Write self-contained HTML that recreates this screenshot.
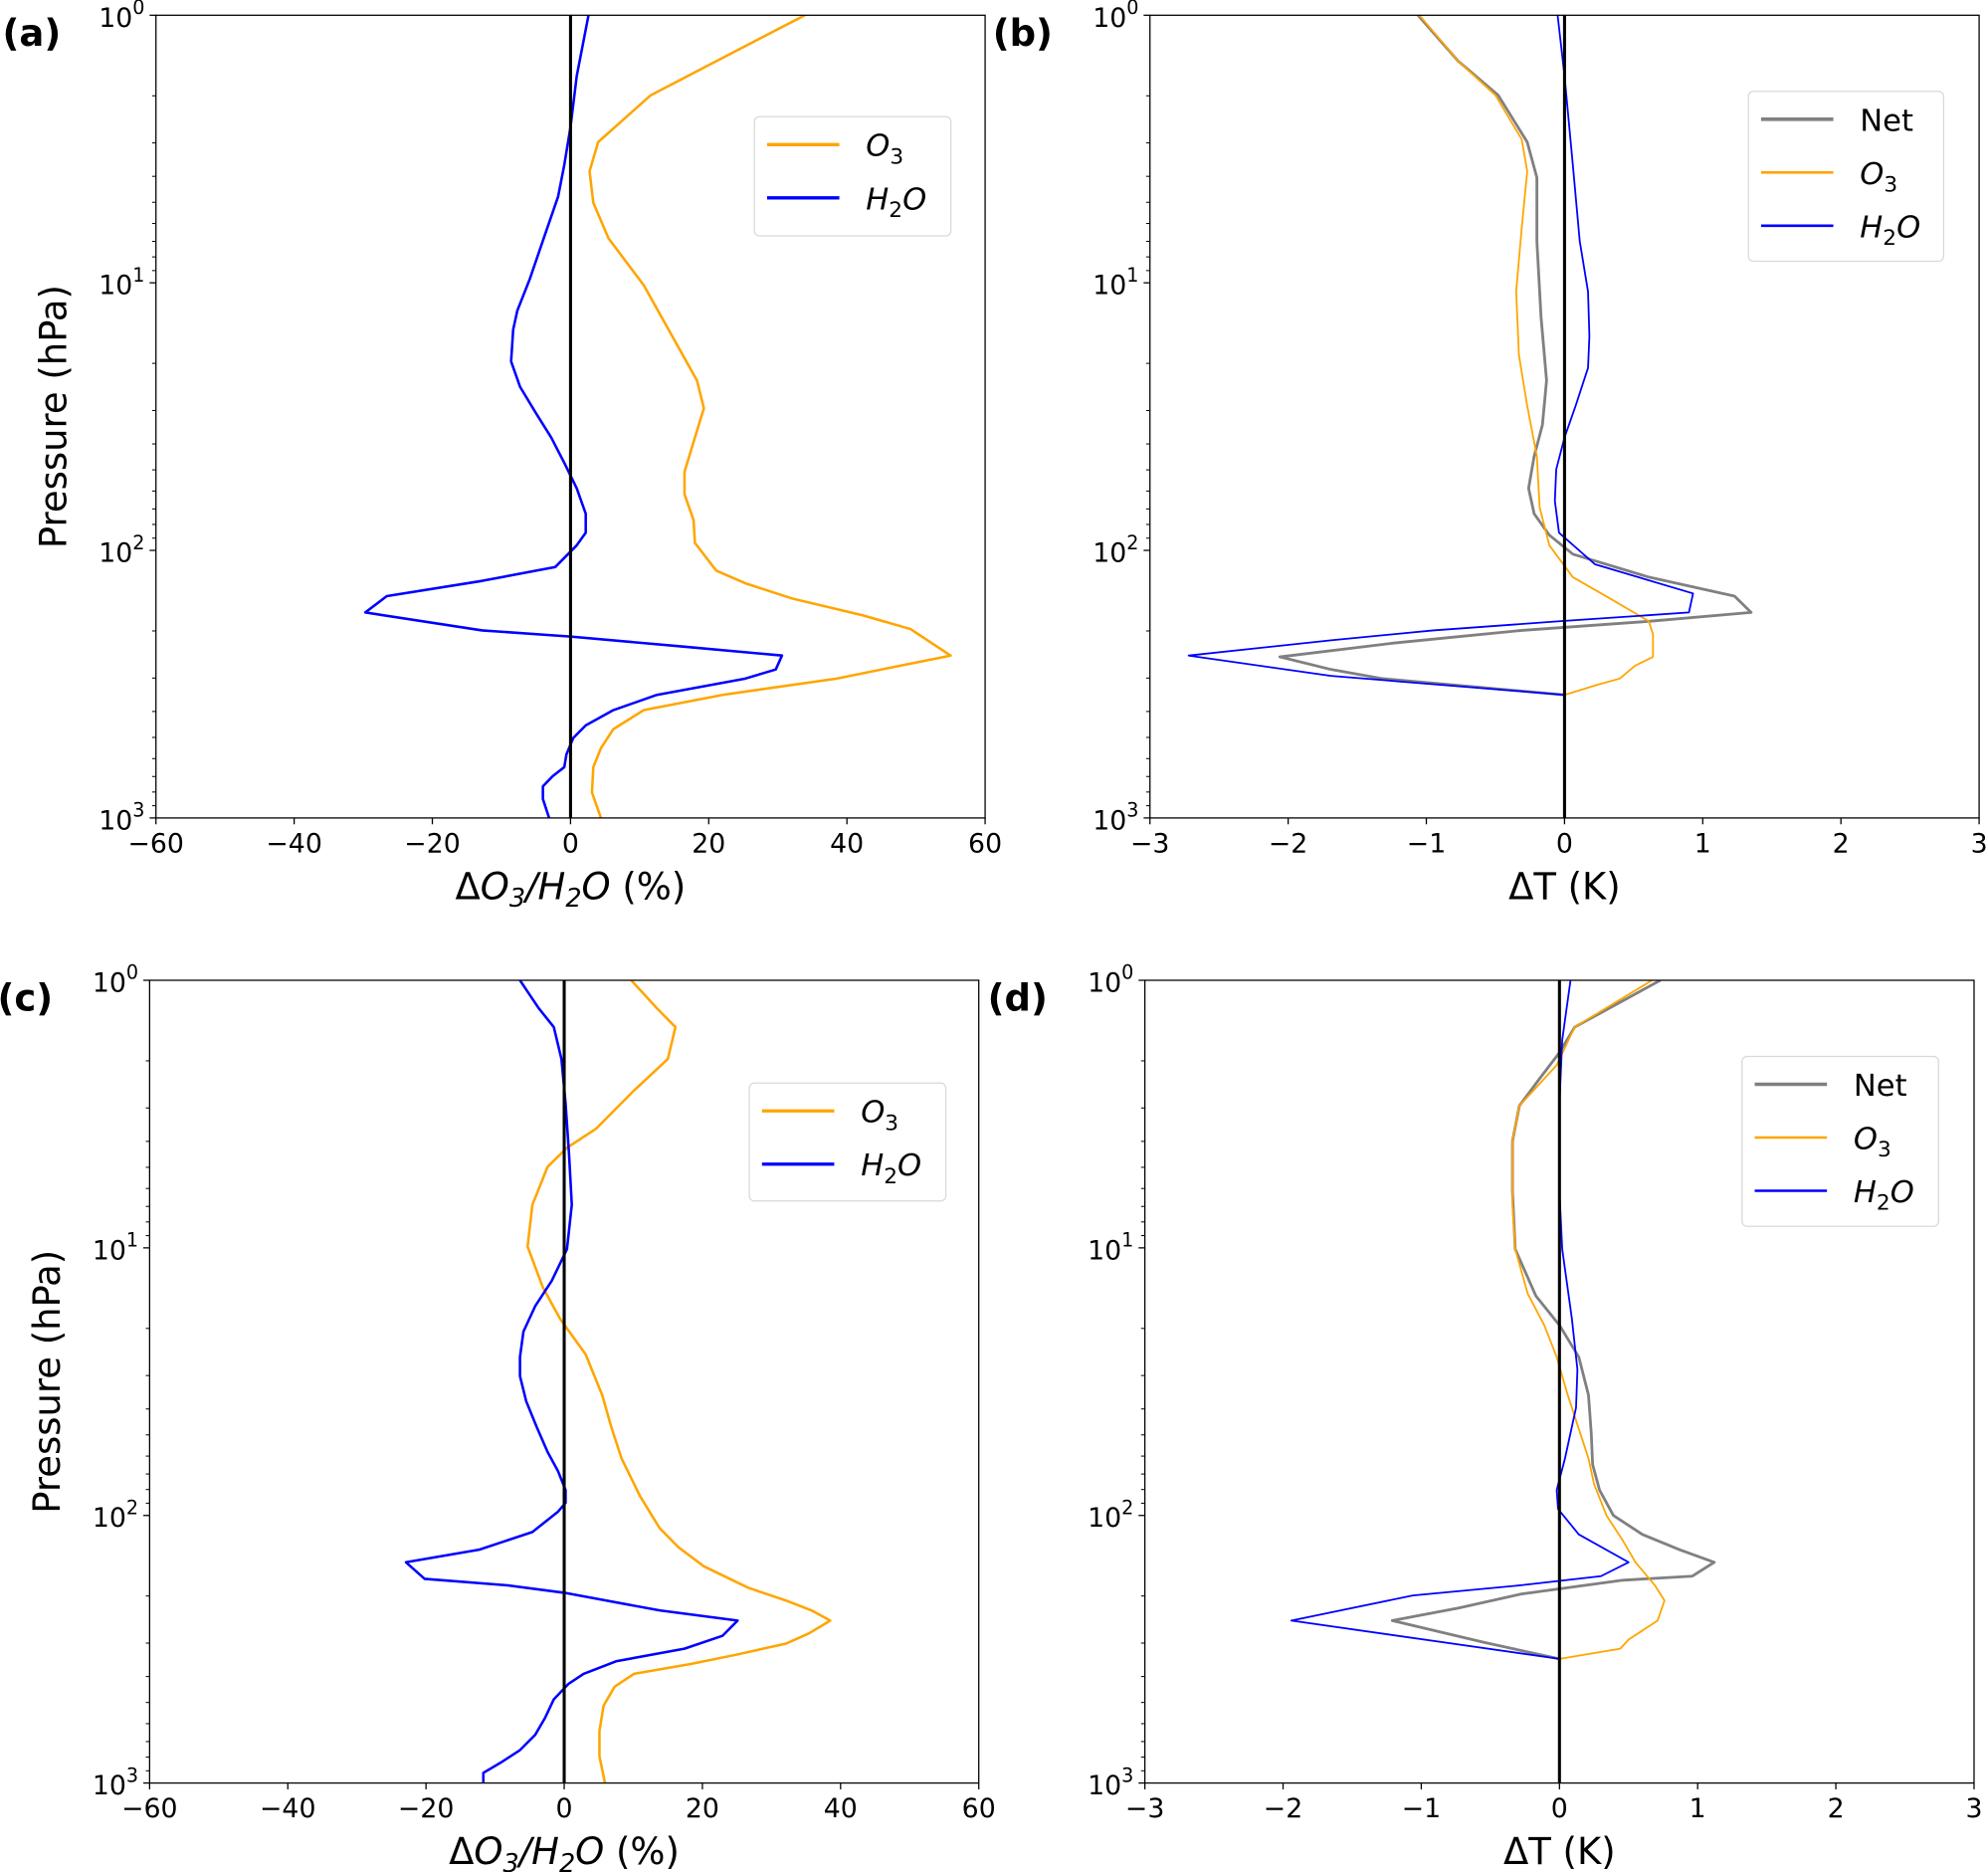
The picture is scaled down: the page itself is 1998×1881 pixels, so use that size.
<!DOCTYPE html>
<html><head><meta charset="utf-8"><style>
html,body{margin:0;padding:0;background:#fff;}
svg{display:block;font-family:"DejaVu Sans","Liberation Sans",sans-serif;}
</style></head><body>
<svg id="fig" width="1998" height="1881" viewBox="0 0 1568 1476.15" xmlns="http://www.w3.org/2000/svg"></svg>
<script>
// ---- data (x values and log10 of pressure in hPa) ----
const aO3X=[33.9,11.6,4.0,2.75,3.3,5.5,10.6,14.7,18.3,19.3,18.0,16.5,16.5,17.8,18.0,21.1,25.3,32.1,42.2,49.2,55.0,38.5,22.0,10.6,6.2,4.4,3.3,3.1,4.4];
const aO3LogP=[0,0.299,0.474,0.583,0.701,0.834,1.009,1.199,1.365,1.469,1.578,1.706,1.791,1.886,1.972,2.076,2.123,2.180,2.242,2.294,2.393,2.479,2.540,2.597,2.668,2.739,2.810,2.905,3.0];
const aH2OX=[2.6,0.9,0,-0.9,-1.8,-3.7,-5.9,-7.7,-8.3,-8.6,-7.3,-5.1,-2.8,-0.9,0.9,2.2,2.2,0.9,-2.2,-12.8,-26.6,-29.7,-12.8,0,16.5,30.6,29.7,25.3,12.5,6.2,2.2,0.4,-0.6,-0.9,-2.6,-4.0,-4.0,-3.1];
const aH2OLogP=[0,0.227,0.417,0.559,0.678,0.820,0.986,1.104,1.175,1.294,1.389,1.483,1.578,1.673,1.768,1.863,1.934,1.981,2.062,2.114,2.171,2.232,2.299,2.322,2.360,2.393,2.445,2.479,2.540,2.597,2.654,2.701,2.763,2.810,2.844,2.882,2.929,3.0];

const bNetX=[-1.06,-0.77,-0.48,-0.27,-0.20,-0.20,-0.17,-0.13,-0.16,-0.22,-0.26,-0.22,-0.11,0.06,0.61,1.23,1.35,0.61,-0.31,-1.23,-2.06,-1.69,-1.32,0];
const bNetLogP=[0,0.171,0.299,0.474,0.607,0.844,1.128,1.365,1.531,1.649,1.768,1.863,1.943,2.014,2.100,2.171,2.232,2.265,2.299,2.346,2.398,2.445,2.479,2.540];
const bO3X=[-1.05,-0.77,-0.50,-0.31,-0.27,-0.31,-0.35,-0.33,-0.27,-0.20,-0.18,-0.11,0.06,0.33,0.61,0.64,0.64,0.51,0.40,0.24,0];
const bO3LogP=[0,0.171,0.299,0.464,0.583,0.796,1.033,1.270,1.460,1.649,1.839,1.981,2.100,2.180,2.265,2.313,2.398,2.431,2.479,2.502,2.540];
const bH2OX=[-0.05,0,0.06,0.11,0.17,0.18,0.17,0.08,0,-0.06,-0.07,-0.04,0.22,0.93,0.90,-0.04,-0.95,-1.69,-2.72,-1.69,0];
const bH2OLogP=[0,0.227,0.559,0.844,1.033,1.199,1.318,1.460,1.578,1.697,1.815,1.934,2.052,2.161,2.232,2.265,2.299,2.336,2.393,2.469,2.540];

const cO3X=[9.7,13.4,16.1,15.0,10.1,4.6,0.4,-2.4,-4.6,-5.3,-3.1,-0.6,3.1,5.5,6.8,8.3,11.0,13.8,16.5,20.2,26.6,32.1,35.8,38.5,35.4,32.1,24.8,18.3,10.1,7.3,5.7,5.1,5.1,5.9];
const cO3LogP=[0,0.104,0.175,0.294,0.412,0.555,0.626,0.697,0.839,0.995,1.147,1.265,1.398,1.550,1.668,1.787,1.929,2.047,2.118,2.190,2.270,2.318,2.355,2.393,2.441,2.479,2.521,2.555,2.592,2.640,2.711,2.806,2.900,3.0];
const cH2OX=[-6.4,-3.7,-1.5,-0.4,0.2,0.7,1.1,0.4,-1.8,-4.2,-5.9,-6.4,-6.4,-5.5,-4.0,-2.4,-0.9,0.2,0.2,-0.9,-4.6,-12.3,-22.9,-20.2,-8.3,0,13.8,25.1,22.9,17.4,7.5,2.8,0.6,-1.5,-2.8,-4.2,-6.4,-9.2,-11.7,-11.7];
const cH2OLogP=[0,0.104,0.175,0.294,0.460,0.649,0.839,1.005,1.123,1.218,1.313,1.408,1.479,1.573,1.668,1.763,1.834,1.905,1.953,1.986,2.062,2.128,2.175,2.237,2.261,2.289,2.355,2.393,2.450,2.498,2.545,2.592,2.630,2.687,2.758,2.820,2.877,2.924,2.962,3.0];

const dNetX=[0.73,0.11,0,-0.14,-0.29,-0.34,-0.34,-0.32,-0.17,0,0.14,0.21,0.23,0.24,0.29,0.39,0.60,0.87,1.12,0.96,0.46,-0.28,-0.73,-1.21,-0.55,0];
const dNetLogP=[0,0.175,0.270,0.365,0.469,0.602,0.791,1.005,1.180,1.289,1.408,1.550,1.692,1.810,1.905,2.000,2.071,2.128,2.175,2.227,2.242,2.294,2.346,2.393,2.474,2.536];
const dO3X=[0.67,0.11,-0.02,-0.29,-0.34,-0.34,-0.32,-0.23,-0.11,-0.02,0.06,0.15,0.21,0.25,0.34,0.46,0.55,0.69,0.76,0.71,0.50,0.44,0];
const dO3LogP=[0,0.175,0.317,0.469,0.602,0.839,1.005,1.171,1.289,1.408,1.550,1.692,1.787,1.882,2.000,2.095,2.175,2.261,2.318,2.393,2.464,2.498,2.536];
const dH2OX=[0.08,0.02,0,0,0.02,0.09,0.13,0.12,0.04,-0.02,-0.01,0.14,0.50,0.30,-0.28,-1.06,-1.94,0];
const dH2OLogP=[0,0.223,0.460,0.791,1.005,1.265,1.455,1.597,1.787,1.905,1.976,2.071,2.175,2.227,2.261,2.299,2.393,2.536];

const pctTicks=[-60,-40,-20,0,20,40,60];
const tTicks=[-3,-2,-1,0,1,2,3];
const decades=[0,1,2,3];

const NS="http://www.w3.org/2000/svg";
const svg=document.getElementById('fig');
function el(tag,attrs,parent){const e=document.createElementNS(NS,tag);for(const k in attrs)e.setAttribute(k,attrs[k]);(parent||svg).appendChild(e);return e;}
function fmt(v){return v<0?'\u2212'+Math.abs(v):String(v);}

function panel(o){
  const g=el('g',{});
  
  
  const {L,R,T,B,xmin,xmax}=o;
  const sx=v=>L+(v-xmin)/(xmax-xmin)*(R-L);
  const sy=lp=>T+lp/3*(B-T);
  // y ticks (log)
  for(const d of decades){
    const y=sy(d);
    const t=el('line',{x1:L-5,x2:L,y1:y,y2:y,stroke:'#000','stroke-width':1},g);
    
    
    const tx=el('text',{x:L-27,y:y+9,'font-size':21,'text-anchor':'middle'},g);
    
    
    tx.textContent='10';
    const sup=el('tspan',{dy:-10,'font-size':15},tx);sup.textContent=String(d);
    if(d<3){for(let m=2;m<=9;m++){const ym=sy(d+Math.log10(m));
      const mt=el('line',{x1:L-3,x2:L,y1:ym,y2:ym,stroke:'#000','stroke-width':0.8},g);
      
      }}
  }
  for(const v of o.ticks){
    const x=sx(v);
    const t=el('line',{x1:x,x2:x,y1:B,y2:B+5,stroke:'#000','stroke-width':1},g);
    
    
    const tx=el('text',{x:x,y:B+27,'font-size':21,'text-anchor':'middle'},g);
    
    
    tx.textContent=fmt(v);
  }
  // clip
  const cid='clip'+o.id;
  const cp=el('clipPath',{id:cid},g);el('rect',{x:L,y:T,width:R-L,height:B-T},cp);
  const lines=el('g',{'clip-path':'url(#'+cid+')'},g);
  for(const s of o.series){
    const pts=s.x.map((v,i)=>sx(v).toFixed(2)+','+sy(s.lp[i]).toFixed(2)).join(' ');
    const pl=el('polyline',{points:pts,fill:'none',stroke:s.color,'stroke-width':s.w,'stroke-linejoin':'round'},lines);
    
    
  }
  const zl=el('line',{x1:sx(0),x2:sx(0),y1:T,y2:B,stroke:'#000','stroke-width':2.4},g);
  
  
  const fr=el('rect',{x:L,y:T,width:R-L,height:B-T,fill:'none',stroke:'#000','stroke-width':1},g);
  
  
  // panel label
  const pl=el('text',{x:o.labX,y:T+24,'font-size':29,'font-weight':'bold'},g);
  
  
  pl.textContent=o.label;
  // x label
  const xl=el('text',{x:(L+R)/2,y:B+64,'font-size':29,'text-anchor':'middle'},g);
  
  
  if(o.pct){
    xl.appendChild(document.createTextNode('\u0394'));
    let t=el('tspan',{'font-style':'italic'},xl);t.textContent='O';
    t=el('tspan',{'font-style':'italic','font-size':20,dy:6},xl);t.textContent='3';
    t=el('tspan',{'font-style':'italic',dy:-6},xl);t.textContent='/H';
    t=el('tspan',{'font-style':'italic','font-size':20,dy:6},xl);t.textContent='2';
    t=el('tspan',{'font-style':'italic',dy:-6},xl);t.textContent='O';
    t=el('tspan',{},xl);t.textContent=' (%)';
  } else xl.textContent='\u0394T (K)';
  if(o.ylab){
    const yl=el('text',{x:0,y:0,'font-size':29,'text-anchor':'middle',transform:`translate(${L-71},${(T+B)/2}) rotate(-90)`},g);
    
    
    yl.textContent='Pressure (hPa)';
  }
  // legend
  const lg=el('g',{},g);
  
  
  const lb=o.leg;
  el('rect',{x:lb.x,y:lb.y,width:lb.w,height:lb.h,rx:4,fill:'#fff',stroke:'#d9d9d9','stroke-width':1},lg);
  o.series.slice().reverse().reverse().forEach((s,i)=>{
    const yy=lb.y+22+i*42;
    const e=el('g',{},lg);
    
    
    el('line',{x1:lb.x+10,x2:lb.x+67,y1:yy,y2:yy,stroke:s.color,'stroke-width':s.w+0.6},e);
    const t=el('text',{x:lb.x+88,y:yy+9,'font-size':24},e);
    if(s.key==='Net'){t.textContent='Net';}
    else if(s.key==='O3'){let a=el('tspan',{'font-style':'italic'},t);a.textContent='O';a=el('tspan',{'font-size':17,dy:6},t);a.textContent='3';}
    else {let a=el('tspan',{'font-style':'italic'},t);a.textContent='H';a=el('tspan',{'font-size':17,dy:6},t);a.textContent='2';a=el('tspan',{'font-style':'italic',dy:-6},t);a.textContent='O';}
  });
}
const OR='#ffa500',BL='#0000ff',GR='#808080';
panel({id:'a',name:'panel-a',label:'(a)',labX:2,L:123,R:777,T:12,B:645,xmin:-60,xmax:60,ticks:pctTicks,pct:true,ylab:true,
  leg:{x:595,y:92,w:155,h:94},
  series:[{key:'O3',name:'o3-line',x:aO3X,lp:aO3LogP,color:OR,w:2},{key:'H2O',name:'h2o-line',x:aH2OX,lp:aH2OLogP,color:BL,w:2}]});
panel({id:'b',name:'panel-b',label:'(b)',labX:783,L:907,R:1561,T:12,B:645,xmin:-3,xmax:3,ticks:tTicks,pct:false,ylab:false,
  leg:{x:1379,y:72,w:154,h:134},
  series:[{key:'Net',name:'net-line',x:bNetX,lp:bNetLogP,color:GR,w:2.2},{key:'O3',name:'o3-line',x:bO3X,lp:bO3LogP,color:OR,w:1.4},{key:'H2O',name:'h2o-line',x:bH2OX,lp:bH2OLogP,color:BL,w:1.4}]});
panel({id:'c',name:'panel-c',label:'(c)',labX:-2,L:118,R:772,T:773,B:1406,xmin:-60,xmax:60,ticks:pctTicks,pct:true,ylab:true,
  leg:{x:591,y:854,w:155,h:93},
  series:[{key:'O3',name:'o3-line',x:cO3X,lp:cO3LogP,color:OR,w:2},{key:'H2O',name:'h2o-line',x:cH2OX,lp:cH2OLogP,color:BL,w:2}]});
panel({id:'d',name:'panel-d',label:'(d)',labX:779,L:903,R:1557,T:773,B:1406,xmin:-3,xmax:3,ticks:tTicks,pct:false,ylab:false,
  leg:{x:1374,y:833,w:155,h:134},
  series:[{key:'Net',name:'net-line',x:dNetX,lp:dNetLogP,color:GR,w:2.2},{key:'O3',name:'o3-line',x:dO3X,lp:dO3LogP,color:OR,w:1.4},{key:'H2O',name:'h2o-line',x:dH2OX,lp:dH2OLogP,color:BL,w:1.4}]});
</script>
</body></html>
